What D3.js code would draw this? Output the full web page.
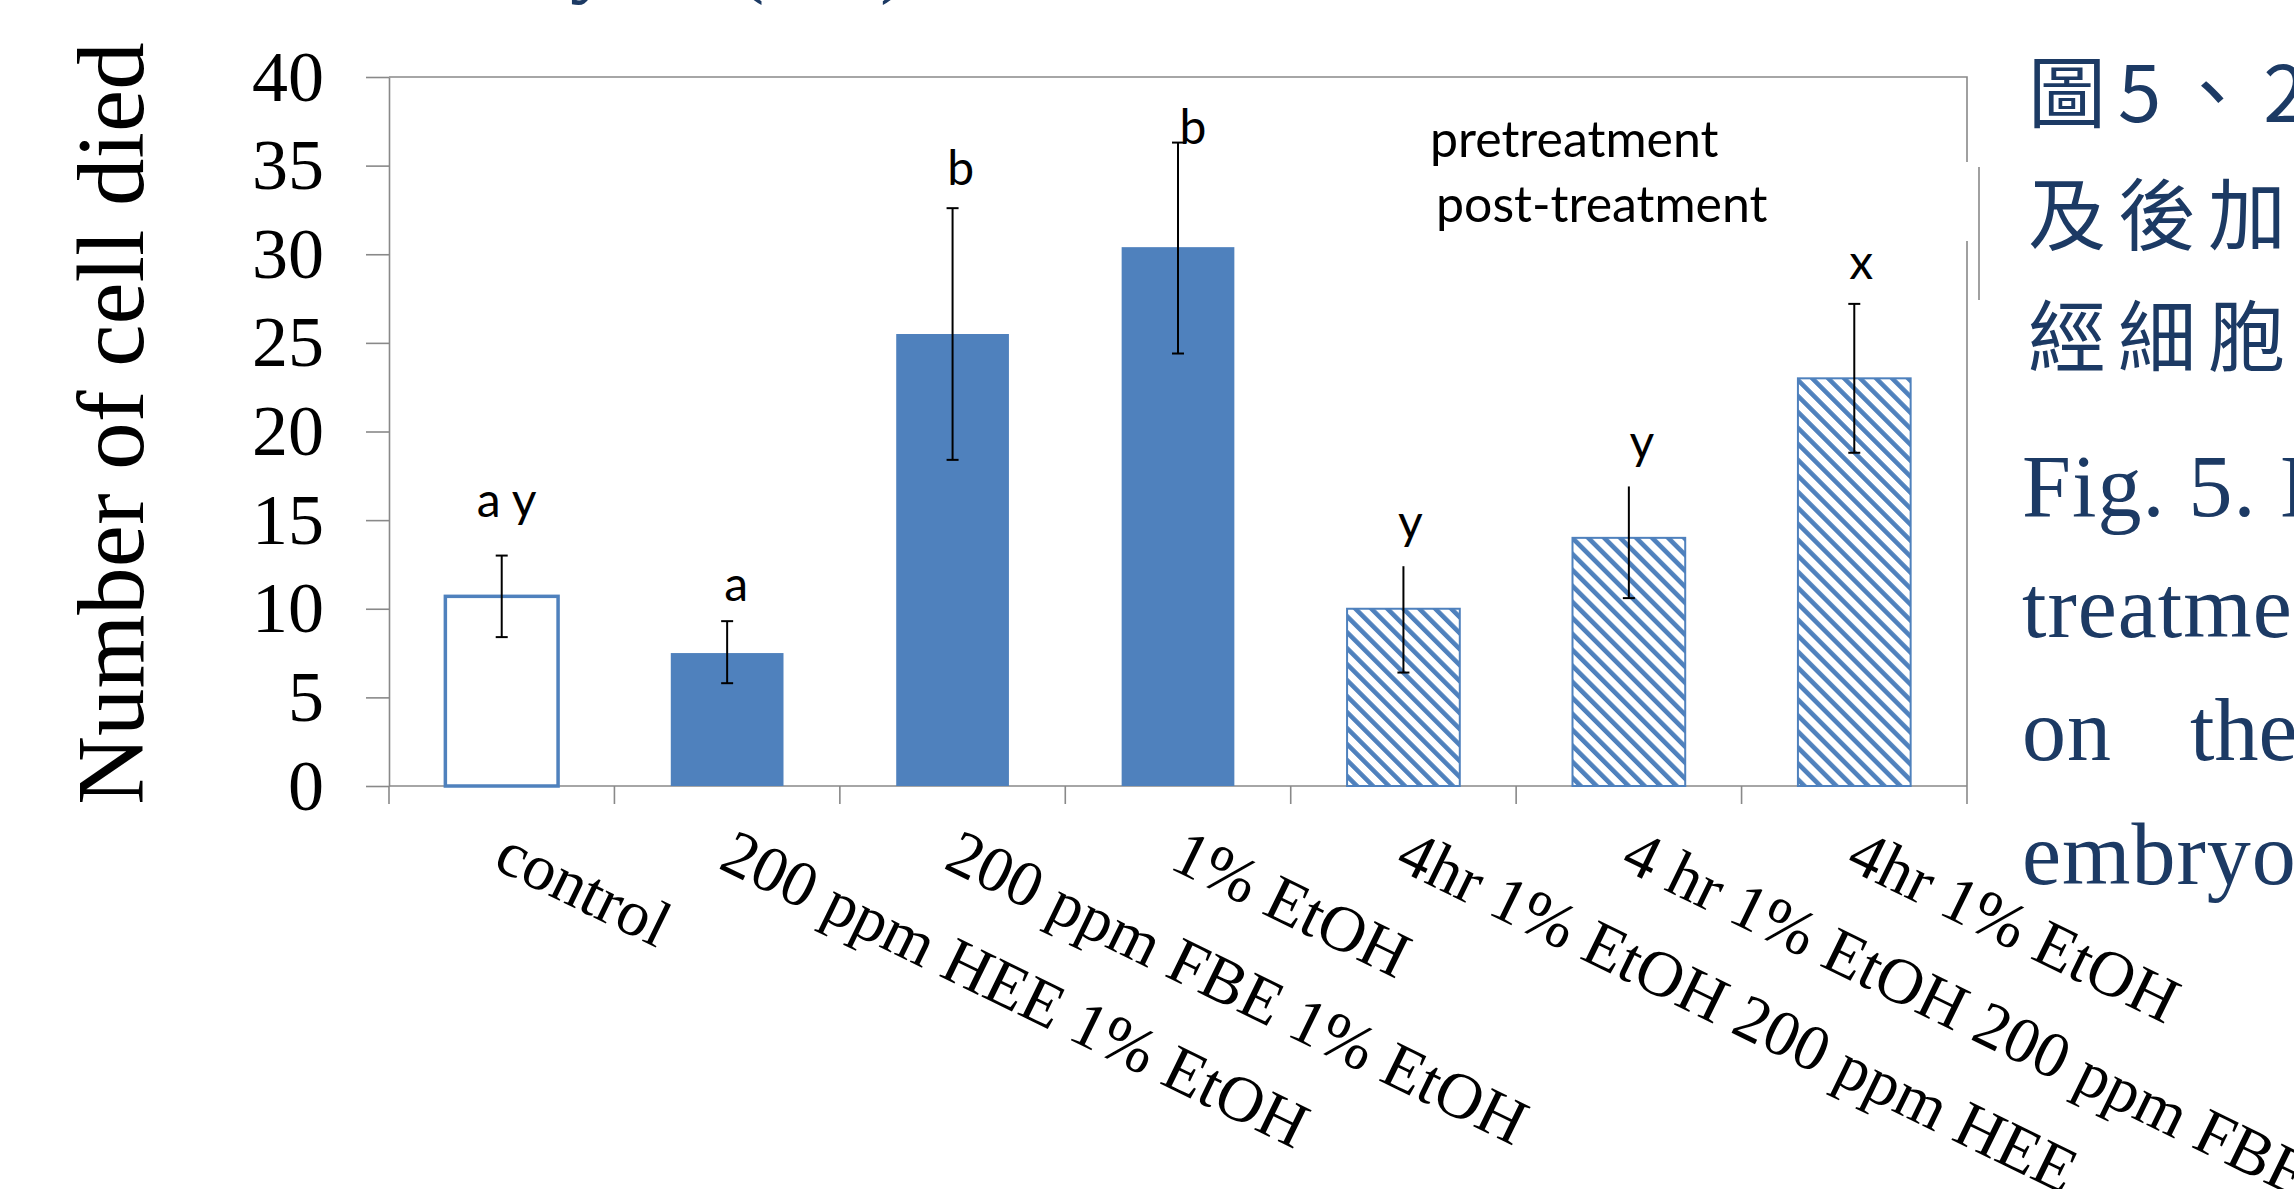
<!DOCTYPE html>
<html>
<head>
<meta charset="utf-8">
<script src="https://cdn.jsdelivr.net/npm/d3@7"></script>
<style>
  body { margin: 0; background: #fff; overflow: hidden; }
  svg { display: block; }
</style>
</head>
<body>
<div id="body"></div>
<script>
// data
var categories = ["control", "200 ppm HEE 1% EtOH", "200 ppm FBE 1% EtOH", "1% EtOH",
  "4hr 1% EtOH 200 ppm HEE", "4 hr 1% EtOH 200 ppm FBE", "4hr 1% EtOH"];
var means = [10.7, 7.5, 25.5, 30.4, 10.0, 14.0, 23.0];
var errHigh = [13.0, 9.3, 32.6, 36.3, 12.4, 16.9, 27.2];
var errLow = [8.4, 5.8, 18.4, 24.4, 6.4, 10.6, 18.8];
var topCap = [true, true, true, true, false, false, true];
var groups = ["control", "pre", "pre", "pre", "post", "post", "post"];
var letters = ["a y", "a", "b", "b", "y", "y", "x"];
var yTicks = [0, 5, 10, 15, 20, 25, 30, 35, 40];
var legendLabels = ["pretreatment", "post-treatment"];
var captionZh = ["圖5、2", "及後加", "經細胞"];
var captionEn = ["Fig. 5. I", "treatment", "on", "embryos"];

const W = 2294, H = 1189;
const margin = {top: 77, right: 327, bottom: 403, left: 389};
var width = W - margin.left - margin.right,
    height = H - margin.top - margin.bottom;
var blue = "#4f81bd", axisGrey = "#898989", capBlue = "#1c3a64";
var serif = "'Liberation Serif', 'Times New Roman', serif";

var svg = d3.select("#body").append("svg")
    .attr("width", W).attr("height", H);

// diagonal hatch for the post-treatment bars
svg.append("defs").append("pattern")
    .attr("id", "hatch")
    .attr("patternUnits", "userSpaceOnUse")
    .attr("width", 11.3).attr("height", 11.3)
    .attr("patternTransform", "rotate(-45)")
    .call(function(p){
      p.append("rect").attr("width", 11.3).attr("height", 11.3).attr("fill", "#fff");
      p.append("rect").attr("width", 4.6).attr("height", 11.3).attr("fill", blue);
    });

var g = svg.append("g").attr("transform", "translate(" + margin.left + "," + margin.top + ")");

var x = d3.scaleBand().domain(categories).range([0, width]).padding(0);
var y = d3.scaleLinear().domain([0, 40]).range([height, 0]);
var barW = x.bandwidth() * 0.5;
var cx = function(c){ return x(c) + x.bandwidth() / 2; };

// plot border (top + right)
g.append("path")
    .attr("d", "M0,0H" + width + "V" + height)
    .attr("fill", "none").attr("stroke", axisGrey).attr("stroke-width", 1.6);

// y axis
var yAxis = g.append("g").attr("class", "y axis")
    .call(d3.axisLeft(y).tickValues(yTicks).tickSize(23).tickSizeOuter(0).tickPadding(42));
yAxis.select(".domain").attr("stroke", axisGrey).attr("stroke-width", 1.6);
yAxis.selectAll(".tick line").attr("stroke", axisGrey).attr("stroke-width", 1.6);
yAxis.selectAll(".tick text")
    .attr("fill", "#000")
    .style("font-family", serif)
    .style("font-size", "72px");

// x axis line with ticks between categories
var xAxisG = g.append("g").attr("class", "x axis").attr("transform", "translate(0," + height + ")");
xAxisG.append("line").attr("x1", 0).attr("x2", width)
    .attr("stroke", axisGrey).attr("stroke-width", 1.6);
var bounds = categories.map(function(c){ return x(c); }).concat([width]);
xAxisG.selectAll(".sep").data(bounds).enter().append("line")
    .attr("class", "sep")
    .attr("x1", function(d){ return d; }).attr("x2", function(d){ return d; })
    .attr("y1", 0).attr("y2", 18)
    .attr("stroke", axisGrey).attr("stroke-width", 1.6);

// rotated category labels
xAxisG.selectAll(".cat").data(categories).enter().append("text")
    .attr("class", "cat")
    .attr("transform", function(d){ return "translate(" + (cx(d) + 12) + ",36) rotate(26)"; })
    .attr("dy", "0.78em")
    .style("font-family", serif)
    .style("font-size", "65px")
    .text(function(d){ return d; });

// bars
var rows = categories.map(function(c, i){
  return {cat: c, mean: means[i], hi: errHigh[i], lo: errLow[i], cap: topCap[i],
          group: groups[i], letter: letters[i]};
});
g.selectAll(".bar").data(rows).enter().append("rect")
    .attr("class", "bar")
    .attr("x", function(d){ return x(d.cat) + (x.bandwidth() - barW) / 2; })
    .attr("y", function(d){ return y(d.mean); })
    .attr("width", barW)
    .attr("height", function(d){ return height - y(d.mean); })
    .attr("fill", function(d){ return d.group == "control" ? "#fff" : d.group == "pre" ? blue : "url(#hatch)"; })
    .attr("stroke", function(d){ return d.group == "pre" ? "none" : blue; })
    .attr("stroke-width", function(d){ return d.group == "control" ? 3.5 : 2; });

// error bars
var cap = 6;
var eb = g.selectAll(".err").data(rows).enter().append("g").attr("class", "err")
    .attr("stroke", "#000").attr("stroke-width", 2);
eb.append("line")
    .attr("x1", function(d){ return cx(d.cat); })
    .attr("x2", function(d){ return cx(d.cat); })
    .attr("y1", function(d){ return y(d.hi); })
    .attr("y2", function(d){ return y(d.lo); });
eb.append("line")
    .attr("x1", function(d){ return cx(d.cat) - cap; })
    .attr("x2", function(d){ return cx(d.cat) + cap; })
    .attr("y1", function(d){ return y(d.lo); })
    .attr("y2", function(d){ return y(d.lo); });
eb.filter(function(d){ return d.cap; }).append("line")
    .attr("x1", function(d){ return cx(d.cat) - cap; })
    .attr("x2", function(d){ return cx(d.cat) + cap; })
    .attr("y1", function(d){ return y(d.hi); })
    .attr("y2", function(d){ return y(d.hi); });

// significance letters (hand placed in the original, so small nudges)
var letterDx = [5, 9, 8, 15, 7, 13, 7];
var letterGap = [39, 20, 23, -1, 27, 27, 25];
g.selectAll(".letter").data(rows).enter().append("text")
    .attr("class", "letter")
    .attr("x", function(d, i){ return cx(d.cat) + letterDx[i]; })
    .attr("y", function(d, i){ return y(d.hi) - letterGap[i]; })
    .attr("text-anchor", "middle")
    .style("font-family", "Lato, 'Open Sans', sans-serif")
    .style("font-size", "48px")
    .text(function(d){ return d.letter; });

// legend text (keys are hidden in the original)
svg.selectAll(".legend").data(legendLabels).enter().append("text")
    .attr("class", "legend")
    .attr("x", function(d, i){ return 1430 + i * 6; })
    .attr("y", function(d, i){ return 157 + i * 65; })
    .style("font-family", "Lato, 'Open Sans', sans-serif")
    .style("font-size", "50px")
    .text(function(d){ return d; });

// legend box edge covering the plot border
svg.append("rect").attr("x", 1960).attr("y", 162).attr("width", 14).attr("height", 79).attr("fill", "#fff");
svg.append("line").attr("x1", 1979).attr("x2", 1979).attr("y1", 167).attr("y2", 300)
    .attr("stroke", axisGrey).attr("stroke-width", 1.6);

// y axis title
svg.append("text")
    .attr("transform", "translate(143," + (margin.top + height / 2 - 8) + ") rotate(-90)")
    .attr("text-anchor", "middle")
    .style("font-family", serif)
    .style("font-size", "95px")
    .text("Number of cell died");

// caption from the surrounding page, cut off at the right edge
svg.selectAll(".capzh").data(captionZh).enter().append("text")
    .attr("class", "capzh")
    .attr("x", 2028)
    .attr("y", function(d, i){ return 122 + i * 122; })
    .attr("fill", capBlue)
    .style("font-family", "'Noto Sans CJK TC', sans-serif")
    .style("font-size", "78px")
    .style("letter-spacing", "12px")
    .text(function(d){ return d; });

var enY = [516, 637, 760, 884];
svg.selectAll(".capen").data(captionEn).enter().append("text")
    .attr("class", "capen")
    .attr("x", 2022)
    .attr("y", function(d, i){ return enY[i]; })
    .attr("fill", capBlue)
    .style("font-family", serif)
    .style("font-size", "88px")
    .style("letter-spacing", "1px")
    .text(function(d){ return d; });
svg.append("text")
    .attr("x", 2190).attr("y", enY[2])
    .attr("fill", capBlue)
    .style("font-family", serif)
    .style("font-size", "88px")
    .text("the");

// bottom edge of a caption line above the chart, almost all off the page
var topBits = [{t: "y", x: 570}, {t: "(", x: 735}, {t: ")", x: 880}];
svg.selectAll(".topbit").data(topBits).enter().append("text")
    .attr("class", "topbit")
    .attr("x", function(d){ return d.x; }).attr("y", -14)
    .attr("fill", capBlue)
    .style("font-family", serif)
    .style("font-size", "88px")
    .text(function(d){ return d.t; });
</script>
</body>
</html>
